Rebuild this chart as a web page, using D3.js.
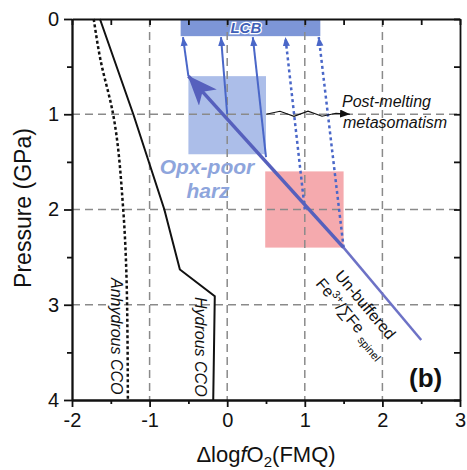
<!DOCTYPE html>
<html>
<head>
<meta charset="utf-8">
<script src="https://cdn.jsdelivr.net/npm/d3@7"></script>
<style>
body { margin: 0; background: #fff; }
text { font-family: "Liberation Sans", Arial, sans-serif; }
</style>
</head>
<body>
<svg id="chart" width="467" height="470"></svg>
<script>
// axis ticks
var xTicks = [-2, -1, 0, 1, 2, 3];
var yTicks = [0, 1, 2, 3, 4];
var xMinor = [-1.5, -0.5, 0.5, 1.5, 2.5];
var yMinor = [0.5, 1.5, 2.5, 3.5];
var gridX = [-1, 0, 1, 2];
var gridY = [1, 2, 3];

// CCO buffer curves: [dlogfO2, P(GPa)]
var hydrousCCO = [[-1.64, 0], [-1.21, 1], [-0.81, 2], [-0.61, 2.63], [-0.16, 2.91], [-0.18, 4]];
var anhydrousCCO = [[-1.72, 0], [-1.64, 0.4], [-1.47, 1], [-1.34, 2], [-1.29, 3], [-1.28, 4]];

// boxes: [x0, x1, P0, P1]
var lcbBox = [-0.6, 1.2, 0, 0.18];
var opxBox = [-0.5, 0.5, 0.6, 1.42];
var redBox = [0.49, 1.5, 1.6, 2.4];

// un-buffered melting trend
var unbuffered = [[2.5, 3.37], [1.5, 2.4]];
var meltTrend = [[1.5, 2.4], [-0.5, 0.6]];

// arrows up to LCB
var solidArrows = [[[-0.5, 0.6], [-0.57, 0.19]], [[0, 1.0], [-0.08, 0.19]], [[0.5, 1.45], [0.33, 0.19]]];
var dottedArrows = [[[1.0, 2.0], [0.75, 0.19]], [[1.5, 2.4], [1.18, 0.19]]];

var svg = d3.select("#chart");
var x = d3.scaleLinear().domain([-2, 3]).range([72, 460]);
var y = d3.scaleLinear().domain([0, 4]).range([19, 400]);

var defs = svg.append("defs");
defs.append("marker").attr("id", "tipBlue")
  .attr("viewBox", "0 0 10 8").attr("refX", 10).attr("refY", 4)
  .attr("markerWidth", 9).attr("markerHeight", 8)
  .attr("markerUnits", "userSpaceOnUse").attr("orient", "auto")
  .append("path").attr("d", "M0,0 L10,4 L0,8 Z").attr("fill", "#4a67c8");
defs.append("marker").attr("id", "tipBig")
  .attr("viewBox", "0 0 30 24").attr("refX", 29).attr("refY", 12)
  .attr("markerWidth", 30).attr("markerHeight", 24)
  .attr("markerUnits", "userSpaceOnUse").attr("orient", "auto")
  .append("path").attr("d", "M0,0 L30,12 L0,24 L8,12 Z").attr("fill", "#5660bd");
defs.append("marker").attr("id", "tipBlack")
  .attr("viewBox", "0 0 10 8").attr("refX", 10).attr("refY", 4)
  .attr("markerWidth", 10).attr("markerHeight", 8)
  .attr("markerUnits", "userSpaceOnUse").attr("orient", "auto")
  .append("path").attr("d", "M0,0 L10,4 L0,8 Z").attr("fill", "#111");

function box(b, fill, op) {
  svg.append("rect")
    .attr("x", x(b[0])).attr("y", y(b[2]))
    .attr("width", x(b[1]) - x(b[0])).attr("height", y(b[3]) - y(b[2]))
    .attr("fill", fill).attr("fill-opacity", op);
}
box(lcbBox, "#6f8bd3", 0.9);
box(opxBox, "#90a8e2", 0.75);
box(redBox, "#f18e93", 0.75);

// dashed grid
svg.append("g").selectAll("line").data(gridX).enter().append("line")
  .attr("x1", function(d) { return x(d); }).attr("x2", function(d) { return x(d); })
  .attr("y1", y(0)).attr("y2", y(4))
  .attr("stroke", "#8a8a8a").attr("stroke-width", 1.5).attr("stroke-dasharray", "8,5");
svg.append("g").selectAll("line").data(gridY).enter().append("line")
  .attr("x1", x(-2)).attr("x2", x(3))
  .attr("y1", function(d) { return y(d); }).attr("y2", function(d) { return y(d); })
  .attr("stroke", "#8a8a8a").attr("stroke-width", 1.5).attr("stroke-dasharray", "8,5");

var line = d3.line().x(function(d) { return x(d[0]); }).y(function(d) { return y(d[1]); });

svg.append("path").attr("d", line(hydrousCCO))
  .attr("fill", "none").attr("stroke", "#111").attr("stroke-width", 2);
svg.append("path").attr("d", line.curve(d3.curveMonotoneY)(anhydrousCCO))
  .attr("fill", "none").attr("stroke", "#111").attr("stroke-width", 2.5).attr("stroke-dasharray", "3,2.5");
line.curve(d3.curveLinear);

// arrows to LCB
solidArrows.forEach(function(a) {
  svg.append("path").attr("d", line(a)).attr("fill", "none")
    .attr("stroke", "#4a67c8").attr("stroke-width", 2).attr("marker-end", "url(#tipBlue)");
});
dottedArrows.forEach(function(a) {
  svg.append("path").attr("d", line(a)).attr("fill", "none")
    .attr("stroke", "#4a67c8").attr("stroke-width", 2.5).attr("stroke-dasharray", "3,3")
    .attr("marker-end", "url(#tipBlue)");
});

// un-buffered trend + melting arrow
svg.append("path").attr("d", line(unbuffered)).attr("fill", "none")
  .attr("stroke", "#6d72c6").attr("stroke-width", 2.5);
svg.append("path").attr("d", line(meltTrend)).attr("fill", "none")
  .attr("stroke", "#5660bd").attr("stroke-width", 3.5).attr("marker-end", "url(#tipBig)");

// post-melting metasomatism squiggle
var wx = x(0.5), wy = y(1);
var wave = [[wx, wy], [wx + 14, wy - 3], [wx + 28, wy + 2], [wx + 42, wy - 3], [wx + 56, wy + 2], [wx + 70, wy - 1], [wx + 84, wy]];
svg.append("path").attr("d", d3.line()(wave)).attr("fill", "none")
  .attr("stroke", "#111").attr("stroke-width", 1.2).attr("marker-end", "url(#tipBlack)");

// labels
svg.append("text").attr("x", x(0.24)).attr("y", 33).attr("text-anchor", "middle")
  .attr("font-size", 15).attr("font-weight", "bold").attr("font-style", "italic")
  .attr("fill", "#3f5fb8").attr("stroke", "#fff").attr("stroke-width", 2.5)
  .attr("paint-order", "stroke").text("LCB");

svg.append("text").attr("x", 207).attr("y", 174).attr("text-anchor", "middle")
  .attr("font-size", 21).attr("font-weight", "bold").attr("font-style", "italic")
  .attr("fill", "#8ea5dc").text("Opx-poor");
svg.append("text").attr("x", 208).attr("y", 198).attr("text-anchor", "middle")
  .attr("font-size", 21).attr("font-weight", "bold").attr("font-style", "italic")
  .attr("fill", "#8ea5dc").text("harz");

svg.append("text").attr("x", 342).attr("y", 107).attr("font-size", 16)
  .attr("font-style", "italic").attr("fill", "#111").text("Post-melting");
svg.append("text").attr("x", 343).attr("y", 128).attr("font-size", 16)
  .attr("font-style", "italic").attr("fill", "#111").text("metasomatism");

svg.append("text").attr("transform", "translate(111,278) rotate(90)")
  .attr("font-size", 16).attr("font-style", "italic").attr("fill", "#111").text("Anhydrous CCO");
svg.append("text").attr("transform", "translate(195,297) rotate(90)")
  .attr("font-size", 16).attr("font-style", "italic").attr("fill", "#111").text("Hydrous CCO");

var ang = Math.atan2(y(3.37) - y(2.4), x(2.5) - x(1.5)) * 180 / Math.PI;
svg.append("text").attr("transform", "translate(334,276) rotate(" + ang + ")")
  .attr("font-size", 16).attr("fill", "#111").text("Un-buffered");
var fe = svg.append("text").attr("transform", "translate(315,284) rotate(" + ang + ")")
  .attr("font-size", 16).attr("fill", "#111");
fe.append("tspan").text("Fe");
fe.append("tspan").attr("font-size", 11).attr("dy", -6).text("3+");
fe.append("tspan").attr("dy", 6).text("/\u2211Fe ");
fe.append("tspan").attr("font-size", 11).attr("dy", 4).text("spinel");

svg.append("text").attr("x", 409).attr("y", 387).attr("font-size", 26)
  .attr("font-weight", "bold").attr("fill", "#111").text("(b)");

// axes
function styleAxis(g) {
  g.selectAll("path, line").attr("stroke", "#111").attr("stroke-width", 1.8);
  g.selectAll("text").attr("fill", "#111").attr("font-size", 20)
    .attr("font-family", "\"Liberation Sans\", Arial, sans-serif");
}
var gb = svg.append("g").attr("transform", "translate(0," + y(4) + ")")
  .call(d3.axisBottom(x).tickValues(xTicks).tickSize(7).tickSizeOuter(0).tickPadding(6)
    .tickFormat(function(d) { return d < 0 ? "-" + Math.abs(d) : d; }));
styleAxis(gb);
var gbm = svg.append("g").attr("transform", "translate(0," + y(4) + ")")
  .call(d3.axisBottom(x).tickValues(xMinor).tickSize(4).tickSizeOuter(0).tickFormat(""));
styleAxis(gbm);
var gl = svg.append("g").attr("transform", "translate(" + x(-2) + ",0)")
  .call(d3.axisLeft(y).tickValues(yTicks).tickSize(8).tickSizeOuter(0).tickPadding(5)
    .tickFormat(d3.format("d")));
styleAxis(gl);
var glm = svg.append("g").attr("transform", "translate(" + x(-2) + ",0)")
  .call(d3.axisLeft(y).tickValues(yMinor).tickSize(5).tickSizeOuter(0).tickFormat(""));
styleAxis(glm);
var gt = svg.append("g").attr("transform", "translate(0," + y(0) + ")")
  .call(d3.axisTop(x).tickValues(xTicks.concat(xMinor)).tickSize(-6).tickSizeOuter(0).tickFormat(""));
styleAxis(gt);
var gr = svg.append("g").attr("transform", "translate(" + x(3) + ",0)")
  .call(d3.axisRight(y).tickValues(yTicks.concat(yMinor)).tickSize(-6).tickSizeOuter(0).tickFormat(""));
styleAxis(gr);

// axis titles
var xt = svg.append("text").attr("x", 266).attr("y", 462).attr("text-anchor", "middle")
  .attr("font-size", 22).attr("fill", "#111");
xt.append("tspan").text("\u0394log");
xt.append("tspan").attr("font-style", "italic").text("f");
xt.append("tspan").text("O");
xt.append("tspan").attr("font-size", 15).attr("dy", 5).text("2");
xt.append("tspan").attr("dy", -5).text("(FMQ)");

svg.append("text").attr("transform", "translate(31,208) rotate(-90)").attr("text-anchor", "middle")
  .attr("font-size", 23).attr("fill", "#111").text("Pressure (GPa)");
</script>
</body>
</html>
